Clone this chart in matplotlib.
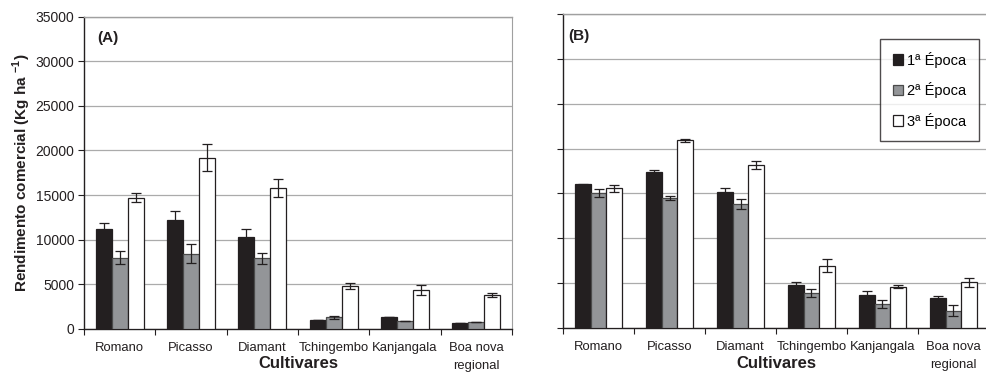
import matplotlib
matplotlib.use("Agg")
import matplotlib.pyplot as plt
import numpy as np

plt.rcParams['font.family'] = ['Liberation Sans', 'DejaVu Sans']
plt.rcParams['mathtext.fontset'] = 'custom'
plt.rcParams['mathtext.rm'] = 'Liberation Sans:bold'
plt.rcParams['mathtext.bf'] = 'Liberation Sans:bold'

categories = ["Romano", "Picasso", "Diamant", "Tchingembo", "Kanjangala", "Boa nova\nregional"]
series_names = ["1ª Época", "2ª Época", "3ª Época"]

# Panel A
a_ep1 = [11250, 12250, 10350, 1000, 1340, 700]
a_ep2 = [8000, 8450, 7900, 1300, 930, 730]
a_ep3 = [14700, 19200, 15830, 4780, 4360, 3760]
a_err1 = [600, 950, 850, 0, 0, 0]
a_err2 = [700, 1100, 580, 200, 0, 0]
a_err3 = [480, 1480, 1000, 330, 520, 230]

# Panel B
b_ep1 = [16000, 17350, 15150, 4800, 3650, 3300]
b_ep2 = [15000, 14450, 13850, 3900, 2680, 1950]
b_ep3 = [15550, 20900, 18150, 6950, 4600, 5100]
b_err1 = [80, 300, 400, 300, 480, 300]
b_err2 = [450, 220, 580, 480, 450, 600]
b_err3 = [380, 220, 480, 700, 180, 520]

fill_colors = ["#231f20", "#939598", "#ffffff"]
edge_colors = ["#231f20", "#4a4a4a", "#231f20"]

W, H = 986, 373
fig = plt.figure(figsize=(W / 100, H / 100), dpi=100)


def frac(x0, y0, x1, y1):
    return [x0 / W, 1 - y1 / H, (x1 - x0) / W, (y1 - y0) / H]


axA = fig.add_axes(frac(84, 16.5, 512, 329))
axB = fig.add_axes(frac(563, 14, 989, 328))

bw = 0.225
offsets = [-bw, 0, bw]
x = np.arange(len(categories))


def draw(ax, vals, errs, label, label_x, show_ylabels, box_right):
    for i, (v, e) in enumerate(zip(vals, errs)):
        ax.bar(x + offsets[i], v, width=bw, color=fill_colors[i], edgecolor=edge_colors[i],
               linewidth=0.9, label=series_names[i], zorder=3)
        ax.errorbar(x + offsets[i], v, yerr=e, fmt='none', ecolor='#231f20', elinewidth=0.9,
                    capsize=3.5, capthick=0.9, zorder=4)
    ax.set_xlim(-0.5, len(categories) - 0.5)
    ax.set_ylim(0, 35000)
    ax.set_yticks(np.arange(0, 35001, 5000))
    ax.yaxis.grid(True, color='#ababab', linewidth=0.9, zorder=0)
    ax.set_axisbelow(True)
    ax.set_xticks(np.arange(-0.5, len(categories) - 0.4, 1.0))
    ax.set_xticklabels([])
    ax.set_xticks(x, minor=True)
    ax.set_xticklabels(categories, minor=True, fontsize=9.4, color='#231f20',
                       linespacing=1.65)
    ax.tick_params(axis='x', which='minor', length=0, pad=9.5)
    ax.tick_params(axis='x', which='major', length=4, direction='out', color='#231f20')
    ax.tick_params(axis='y', length=4, direction='out', color='#231f20', labelsize=10,
                   labelcolor='#231f20', pad=3)
    if not show_ylabels:
        ax.set_yticklabels([])
    for s in ['left', 'bottom']:
        ax.spines[s].set_color('#231f20')
        ax.spines[s].set_linewidth(1.0)
    ax.spines['top'].set_color('#a0a0a0')
    ax.spines['top'].set_linewidth(1.0)
    ax.spines['right'].set_visible(box_right)
    ax.spines['right'].set_color('#a0a0a0')
    # x-axis title placed in figure pixels
    bb = ax.get_position()
    fig.text((bb.x0 + bb.x1) / 2, 1 - 364 / H, "Cultivares", fontsize=12, fontweight='bold',
             color='#231f20', ha='center', va='center')
    ax.text(label_x, 0.93, label, transform=ax.transAxes, fontsize=11, fontweight='bold',
            color='#231f20', va='center', ha='left')


draw(axA, [a_ep1, a_ep2, a_ep3], [a_err1, a_err2, a_err3], "(A)", 0.03, True, True)
draw(axB, [b_ep1, b_ep2, b_ep3], [b_err1, b_err2, b_err3], "(B)", 0.012, False, False)

axA.set_ylabel(r"Rendimento comercial (Kg ha $^{-1}$)", fontsize=11, fontweight='bold',
               color='#231f20', labelpad=2)

leg = axB.legend(loc='upper right', bbox_to_anchor=(0.976, 0.92), fontsize=10.5,
                 frameon=True, fancybox=False, edgecolor='#231f20', handlelength=0.7,
                 handleheight=0.7, handletextpad=0.3, labelspacing=1.0, borderpad=0.85,
                 borderaxespad=0)
leg.get_frame().set_linewidth(1.0)

fig.savefig("out.png", dpi=100)
